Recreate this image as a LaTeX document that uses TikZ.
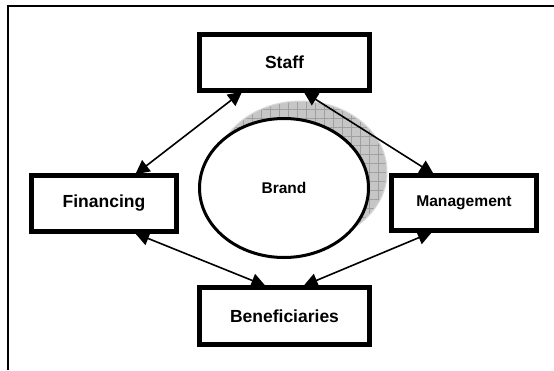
\documentclass[tikz,border=0pt]{standalone}
\usepackage{fontspec}
\setmainfont{Liberation Sans}
\usetikzlibrary{arrows.meta, shapes.geometric, patterns.meta, backgrounds}

\tikzset{
  part/.style={draw, rectangle, line width=5pt, fill=white, inner sep=0pt,
    minimum width=145pt, minimum height=56pt, font=\fontsize{17.5}{20}\selectfont\bfseries},
  link/.style={line width=1.6pt, {Triangle[length=14pt,width=14pt]}-{Triangle[length=14pt,width=14pt]},
    shorten <=-2pt, shorten >=-2pt},
  halo/.style={fill=gray!45, draw=gray!30, line width=1pt}
}

\begin{document}
\begin{tikzpicture}[x=1pt, y=-1pt]
\useasboundingbox (0,0) rectangle (554,370);
% frame
\draw[line width=2pt] (8,370) -- (8,6) -- (554,6);

\node[draw, ellipse, line width=3pt, fill=white, inner sep=0pt, minimum width=169pt, minimum height=139pt,
  font=\fontsize{15.5}{18}\selectfont\bfseries] (brand) at (284,188) {Brand};

\node[part, minimum width=170pt] (staff) at (284.5,62.5) {Staff};
\node[part] (financing) at (104,203.5) {Financing};
\node[part, minimum height=55pt, font=\fontsize{15.6}{18}\selectfont\bfseries] (management) at (464,203) {Management};
\node[part, minimum width=170pt, minimum height=57pt] (beneficiaries) at (284.5,316) {Beneficiaries};

\begin{pgfonlayer}{background}
% shadow of the brand
\path[halo] ([shift={(17,-16)}]brand.center) ellipse [x radius=86, y radius=71];
\path[pattern={Hatch[angle=0, distance=9pt, line width=0.5pt]}, pattern color=gray!75]
  ([shift={(17,-16)}]brand.center) ellipse [x radius=85, y radius=70];
% links
\draw[link] ([xshift=-44pt]staff.south) -- ([xshift=33pt]financing.north);
\draw[link] ([xshift=21pt]staff.south) -- ([xshift=-32pt]management.north);
\draw[link] ([xshift=33pt]financing.south) -- ([xshift=-21pt]beneficiaries.north);
\draw[link] ([xshift=-34pt]management.south) -- ([xshift=21pt]beneficiaries.north);
\end{pgfonlayer}
\end{tikzpicture}
\end{document}
